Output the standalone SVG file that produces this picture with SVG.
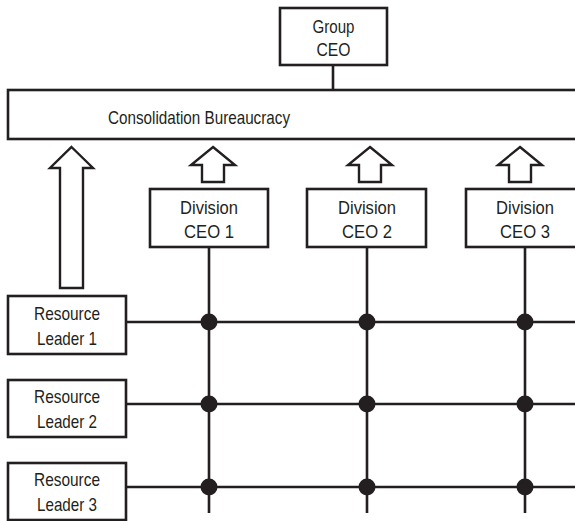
<svg xmlns="http://www.w3.org/2000/svg" width="575" height="521" viewBox="0 0 575 521">
<style>
.box{fill:#fff;stroke:#231f20;stroke-width:2.6}
.ln{stroke:#231f20;stroke-width:2.6;fill:none}
.arr{fill:#fff;stroke:#231f20;stroke-width:2.4;stroke-linejoin:miter}
.dot{fill:#231f20}
text{font-family:"Liberation Sans",Arial,sans-serif;font-size:18.5px;fill:#231f20;text-anchor:middle}
</style>
<rect width="575" height="521" fill="#fff"/>
<g id="connectors">
<line class="ln" x1="333" y1="65" x2="333" y2="90"/>
<line class="ln" x1="126" y1="322" x2="575" y2="322"/>
<line class="ln" x1="126" y1="404" x2="575" y2="404"/>
<line class="ln" x1="126" y1="487" x2="575" y2="487"/>
<line class="ln" x1="209" y1="247" x2="209" y2="513"/>
<line class="ln" x1="367" y1="247" x2="367" y2="513"/>
<line class="ln" x1="525" y1="247" x2="525" y2="513"/>
<polygon class="arr" points="71.5,147 93,168 83,168 83,288 60,288 60,168 50,168"/>
<polygon class="arr" points="213,147 235,165 224,165 224,182 202,182 202,165 191,165"/>
<polygon class="arr" points="370,147 392,165 381,165 381,182 359,182 359,165 348,165"/>
<polygon class="arr" points="520,147 542,165 531,165 531,182 509,182 509,165 498,165"/>
<g class="dot">
<circle cx="209" cy="322" r="8.5"/><circle cx="367" cy="322" r="8.5"/><circle cx="525" cy="322" r="8.5"/>
<circle cx="209" cy="404" r="8.5"/><circle cx="367" cy="404" r="8.5"/><circle cx="525" cy="404" r="8.5"/>
<circle cx="209" cy="487" r="8.5"/><circle cx="367" cy="487" r="8.5"/><circle cx="525" cy="487" r="8.5"/>
</g>
</g>
<g id="group-ceo"><rect class="box" x="280" y="8" width="107" height="57"/><text x="333.5" y="33" textLength="42" lengthAdjust="spacingAndGlyphs">Group</text><text x="333.5" y="56" textLength="34" lengthAdjust="spacingAndGlyphs">CEO</text></g>
<g id="bureaucracy"><rect class="box" x="8" y="90" width="580" height="49"/><text x="199" y="124" textLength="182" lengthAdjust="spacingAndGlyphs">Consolidation Bureaucracy</text></g>
<g id="div1"><rect class="box" x="150" y="189" width="118" height="58"/><text x="209" y="214" textLength="58" lengthAdjust="spacingAndGlyphs">Division</text><text x="209" y="238" textLength="50" lengthAdjust="spacingAndGlyphs">CEO 1</text></g>
<g id="div2"><rect class="box" x="307" y="189" width="119" height="58"/><text x="367" y="214" textLength="58" lengthAdjust="spacingAndGlyphs">Division</text><text x="367" y="238" textLength="50" lengthAdjust="spacingAndGlyphs">CEO 2</text></g>
<g id="div3"><rect class="box" x="466" y="189" width="118" height="58"/><text x="525" y="214" textLength="58" lengthAdjust="spacingAndGlyphs">Division</text><text x="525" y="238" textLength="50" lengthAdjust="spacingAndGlyphs">CEO 3</text></g>
<g id="rl1"><rect class="box" x="8" y="296" width="118" height="58"/><text x="67" y="320" textLength="66" lengthAdjust="spacingAndGlyphs">Resource</text><text x="67" y="345" textLength="60" lengthAdjust="spacingAndGlyphs">Leader 1</text></g>
<g id="rl2"><rect class="box" x="8" y="380" width="118" height="57"/><text x="67" y="403" textLength="66" lengthAdjust="spacingAndGlyphs">Resource</text><text x="67" y="428" textLength="60" lengthAdjust="spacingAndGlyphs">Leader 2</text></g>
<g id="rl3"><rect class="box" x="8" y="463" width="118" height="57"/><text x="67" y="486" textLength="66" lengthAdjust="spacingAndGlyphs">Resource</text><text x="67" y="511" textLength="60" lengthAdjust="spacingAndGlyphs">Leader 3</text></g>
</svg>
